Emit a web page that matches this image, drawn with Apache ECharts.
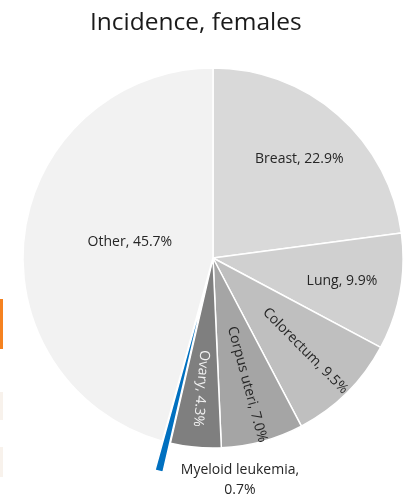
<!DOCTYPE html>
<html>
<head>
<meta charset="utf-8">
<script src="https://cdn.jsdelivr.net/npm/echarts@6/dist/echarts.min.js"></script>
<style>
  html, body { margin: 0; padding: 0; background: #fff; }
  #chart { width: 406px; height: 498px; }
</style>
</head>
<body>
<div id="chart"></div>
<script>
// slices, clockwise from 12 o'clock
const categories = ['Breast', 'Lung', 'Colorectum', 'Corpus uteri', 'Ovary', 'Myeloid leukemia', 'Other']
const shares = [22.9, 9.9, 9.5, 7.0, 4.3, 0.7, 45.7]
const sliceColors = ['#d9d9d9', '#d0d0d0', '#bfbfbf', '#a5a5a5', '#7f7f7f', '#0070c0', '#f2f2f2']

const myChart = echarts.init(document.getElementById('chart'))

const fmt = p => p.name + ', ' + p.value.toFixed(1) + '%'
const labelFont = { fontFamily: 'Open Sans', fontSize: 14, color: '#262626' }

// main pie: fills + labels of Other / Myeloid leukemia
const mainData = categories.map((name, i) => {
  const item = { name, value: shares[i], itemStyle: { color: sliceColors[i] }, label: { show: false } }
  if (name === 'Other') {
    item.label = { show: true, position: 'inside', formatter: fmt, ...labelFont }
  }
  if (name === 'Myeloid leukemia') {
    item.selected = true
    item.label = {
      show: true,
      position: 'outside',
      formatter: p => p.name + ',\n' + p.value.toFixed(1) + '%',
      lineHeight: 20,
      ...labelFont
    }
    item.labelLine = { show: false, length: 0, length2: 0 }
  }
  return item
})

// transparent ring that only carries the inner labels (further out than centre of slice)
const labelData = categories.map((name, i) => {
  const item = { name, value: shares[i], label: { show: false } }
  if (['Breast', 'Lung'].includes(name)) {
    item.label = { show: true, position: 'inside', formatter: fmt, ...labelFont }
  }
  if (['Colorectum', 'Corpus uteri'].includes(name)) {
    item.label = { show: true, position: 'inside', rotate: 'radial', formatter: fmt, ...labelFont }
  }
  if (name === 'Ovary') {
    item.label = { show: true, position: 'inside', rotate: -95, formatter: fmt, ...labelFont, color: '#f2f2f2' }
  }
  return item
})

const option = {
  animation: false,
  title: {
    text: 'Incidence, females',
    left: 85,
    top: 6,
    textStyle: { fontFamily: 'Open Sans', fontSize: 24.5, fontWeight: 'normal', color: '#1a1a1a' }
  },
  graphic: [
    { type: 'rect', shape: { x: 0, y: 299, width: 3, height: 50 }, style: { fill: '#f58220' } },
    { type: 'rect', shape: { x: 0, y: 392, width: 3, height: 28 }, style: { fill: '#f8f2ec' } },
    { type: 'rect', shape: { x: 0, y: 447, width: 3, height: 30 }, style: { fill: '#f8f2ec' } }
  ],
  series: [
    {
      type: 'pie',
      center: [213, 258],
      radius: [0, 190],
      startAngle: 90,
      clockwise: true,
      selectedMode: 'single',
      selectedOffset: 30,
      avoidLabelOverlap: false,
      itemStyle: { borderColor: '#ffffff', borderWidth: 1.5 },
      emphasis: { disabled: true },
      select: { itemStyle: { borderColor: '#ffffff', borderWidth: 1.5 } },
      labelLayout: p => {
        if (p.dataIndex === 5) return { dx: 86, dy: 9, align: 'center' }
        if (p.dataIndex === 6) return { dx: 14, dy: -3 }
        return {}
      },
      data: mainData
    },
    {
      type: 'pie',
      center: [213, 258],
      radius: [66, 190],
      startAngle: 90,
      clockwise: true,
      silent: true,
      avoidLabelOverlap: false,
      itemStyle: { color: 'rgba(0,0,0,0)', borderWidth: 0 },
      emphasis: { disabled: true },
      labelLine: { show: false },
      data: labelData
    }
  ]
}

myChart.setOption(option)
</script>
</body>
</html>
